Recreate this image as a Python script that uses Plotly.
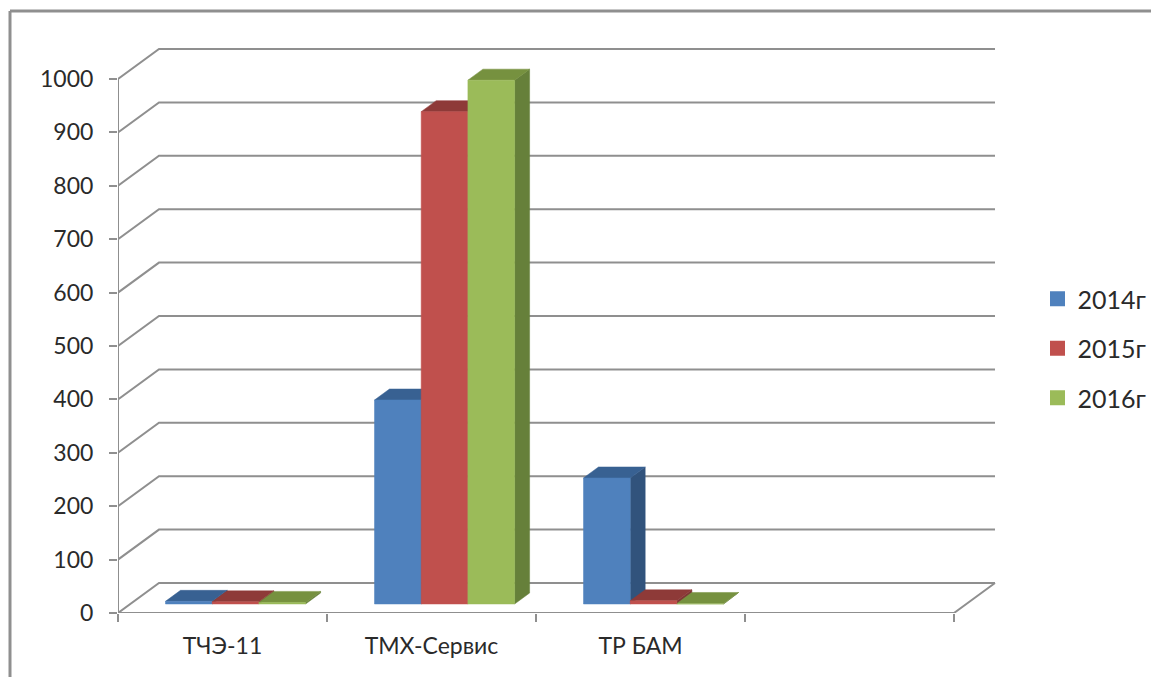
import plotly.graph_objects as go

categories = ["ТЧЭ-11", "ТМХ-Сервис", "ТР БАМ"]
series_names = ["2014г", "2015г", "2016г"]
values_2014 = [5, 382, 236]
values_2015 = [4, 922, 6]
values_2016 = [3, 981, 1]
y_ticks = [0, 100, 200, 300, 400, 500, 600, 700, 800, 900, 1000]

all_values = [values_2014, values_2015, values_2016]
front = ["#4f81bd", "#c0504d", "#9bbb59"]
side = ["#31537c", "#7e3735", "#66803a"]
top = ["#386192", "#8e3a38", "#76913f"]
GRID = "#8f8f8f"
TEXT = "#2a2a2a"
FONT = "Lato, 'Open Sans', sans-serif"

W, H = 1151, 677
L, R, T, B = 118, 145, 39, 64
PX_X = 209.0          # pixels per category
PX_Y = 0.534          # pixels per value unit
plot_w, plot_h = W - L - R, H - T - B
x_max = plot_w / PX_X
y_max = plot_h / PX_Y
DX, DY = 41 / PX_X, 30 / PX_Y      # depth of the floor
BDX, BDY = 15 / PX_X, 11 / PX_Y    # depth of a bar
BASE = 9 / PX_Y
BAR_W = 46.7 / PX_X
BAR_L = 47.5 / PX_X
N_CAT = len(categories) + 1

fig = go.Figure()


def line(xs, ys):
    fig.add_trace(go.Scatter(x=xs, y=ys, mode="lines", showlegend=False, hoverinfo="skip",
                             cliponaxis=False, line=dict(color=GRID, width=2)))


def poly(xs, ys, color):
    fig.add_trace(go.Scatter(x=xs, y=ys, mode="lines", fill="toself", fillcolor=color,
                             showlegend=False, hoverinfo="skip", cliponaxis=False,
                             line=dict(color=color, width=0.5)))


# walls and floor
for v in y_ticks:
    line([0, DX, N_CAT + DX], [v, v + DY, v + DY])
line([0, 0], [0, y_ticks[-1]])
line([0, N_CAT, N_CAT + DX], [0, 0, DY])

# bars, drawn left to right so nearer faces cover earlier sides
for c in range(len(categories)):
    for s, vals in enumerate(all_values):
        x0 = c + BAR_L + s * BAR_W
        x1 = x0 + BAR_W
        y0 = BASE
        y1 = BASE + vals[c]
        poly([x1, x1 + BDX, x1 + BDX, x1, x1], [y0, y0 + BDY, y1 + BDY, y1, y0], side[s])
        poly([x0, x0 + BDX, x1 + BDX, x1, x0], [y1, y1 + BDY, y1 + BDY, y1, y1], top[s])
        poly([x0, x1, x1, x0, x0], [y0, y0, y1, y1, y0], front[s])

# legend entries
for s, name in enumerate(series_names):
    fig.add_trace(go.Scatter(x=[None], y=[None], mode="markers", name=name, legendgroup=name,
                             marker=dict(symbol="square", size=15, color=front[s])))

frame_left = (10 - L) / plot_w
frame_top = 1 + (T - 11) / plot_h
frame_bottom = -B / plot_h
fig.add_shape(type="line", xref="paper", yref="paper", x0=frame_left, x1=frame_left,
              y0=frame_bottom, y1=frame_top, line=dict(color=GRID, width=3))
fig.add_shape(type="line", xref="paper", yref="paper", x0=frame_left, x1=1 + R / plot_w,
              y0=frame_top, y1=frame_top, line=dict(color=GRID, width=3))

fig.update_layout(
    width=W, height=H,
    margin=dict(l=L, r=R, t=T, b=B, autoexpand=False),
    paper_bgcolor="white", plot_bgcolor="white",
    font=dict(family=FONT, color=TEXT, size=20),
    xaxis=dict(range=[0, x_max], showgrid=False, zeroline=False, showline=False,
               tickmode="array", tickvals=[i + 0.5 for i in range(len(categories))],
               ticktext=categories, ticks="outside", ticklen=12, tickcolor="rgba(0,0,0,0)",
               tickfont=dict(size=23, family=FONT, color=TEXT),
               minor=dict(tickmode="array", tickvals=list(range(N_CAT + 1)), ticks="outside",
                          ticklen=8, tickcolor=GRID, tickwidth=2, showgrid=False)),
    yaxis=dict(range=[0, y_max], showgrid=False, zeroline=False, showline=False,
               tickmode="array", tickvals=y_ticks, ticks="outside", ticklen=8,
               tickcolor=GRID, tickwidth=2, ticklabelstandoff=11,
               tickfont=dict(size=23, family=FONT, color=TEXT)),
    legend=dict(x=(1037.5 - L) / plot_w, y=(H - B - 276) / plot_h, xanchor="left", yanchor="top",
                xref="paper", yref="paper",
                font=dict(size=25, family=FONT, color=TEXT), tracegroupgap=14,
                itemwidth=30, bgcolor="rgba(0,0,0,0)"),
)

fig.write_html("out.html", post_script="document.body.style.margin='0';",
               config=dict(displayModeBar=False))
